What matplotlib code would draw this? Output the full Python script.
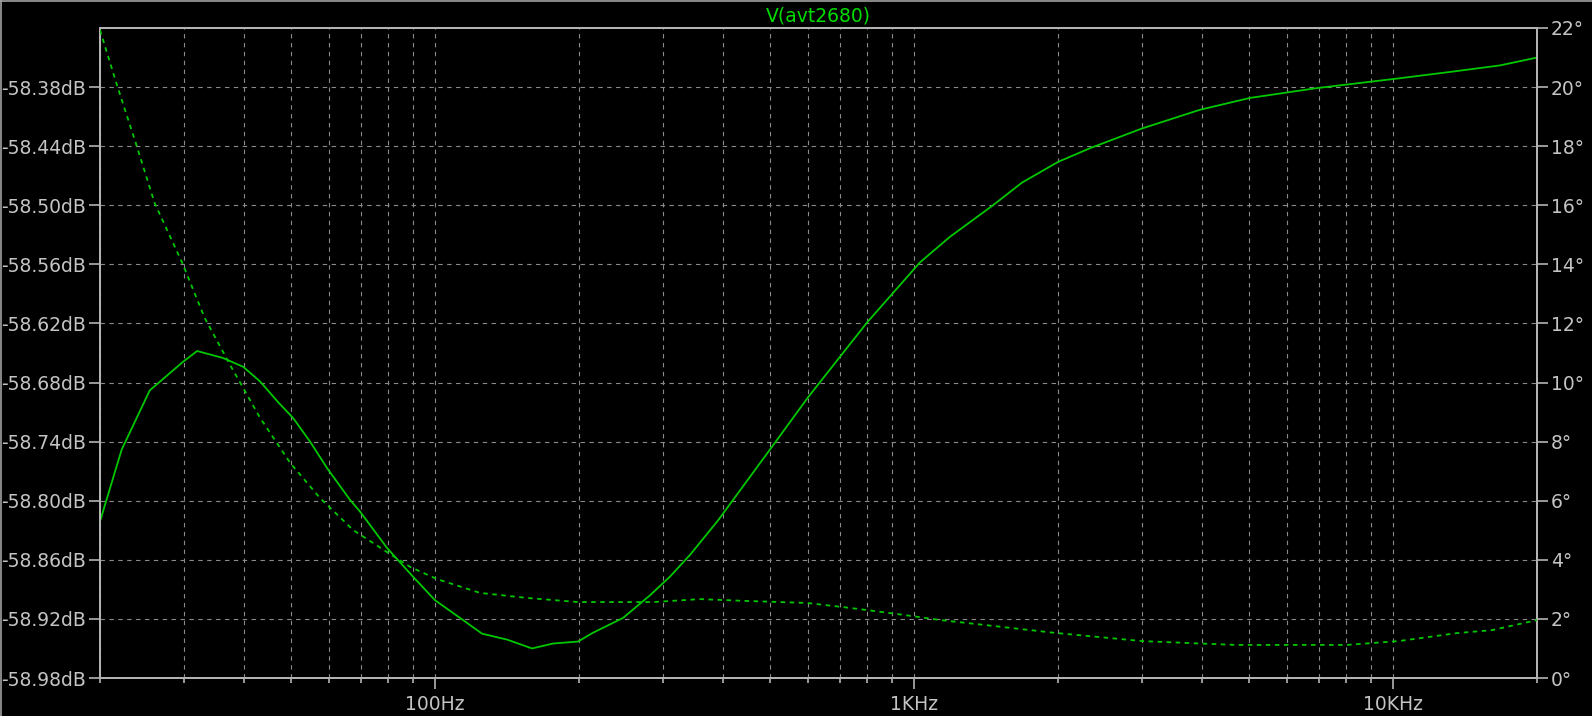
import numpy as np
import matplotlib
matplotlib.use("Agg")
import matplotlib.pyplot as plt
from matplotlib.ticker import FixedLocator, LogLocator, NullFormatter
from matplotlib.lines import Line2D

# ---- data ----
mag_freq = [20, 22.2, 25.4, 29.8, 31.9, 36.1, 39.8, 43.2, 47.1, 50.6, 54.9, 59.6,
            66.5, 69.8, 79.5, 90.0, 100.1, 112.9, 125.5, 141.5, 159.6, 176.5,
            199.0, 214.0, 247.2, 281.4, 309.8, 341.0, 390.2, 494.0, 601.4, 798.8,
            1030, 1190, 1463, 1682, 2000, 2334, 2996, 3960, 5034, 6946, 10350,
            12980, 16740, 20000]
mag_db = [-58.821, -58.748, -58.688, -58.659, -58.648, -58.655, -58.664, -58.679,
          -58.700, -58.716, -58.740, -58.767, -58.799, -58.811, -58.848, -58.877,
          -58.901, -58.919, -58.935, -58.941, -58.950, -58.945, -58.943, -58.934,
          -58.919, -58.896, -58.877, -58.855, -58.820, -58.752, -58.695, -58.619,
          -58.558, -58.532, -58.500, -58.477, -58.456, -58.442, -58.422, -58.403,
          -58.391, -58.381, -58.371, -58.365, -58.358, -58.350]

ph_freq = [20, 21.7, 23.9, 26.0, 29.7, 33.1, 37.4, 43.2, 49.9, 57.6, 67.5, 79.5,
           88.8, 101.0, 124.3, 155.8, 199.0, 285.4, 357.8, 444.4, 598.5, 711.6,
           798.8, 918.2, 1139, 1603, 1990, 2996, 3792, 4706, 8022, 10300, 13620,
           16110, 20000]
ph_deg = [21.93, 20.07, 17.97, 16.08, 14.05, 12.18, 10.59, 8.80, 7.28, 6.09,
          5.01, 4.26, 3.76, 3.35, 2.88, 2.71, 2.57, 2.57, 2.67, 2.61, 2.54, 2.40,
          2.30, 2.17, 1.96, 1.69, 1.52, 1.25, 1.18, 1.12, 1.12, 1.25, 1.52, 1.62,
          1.96]

db_ticks = [-58.98, -58.92, -58.86, -58.80, -58.74, -58.68, -58.62, -58.56,
            -58.50, -58.44, -58.38]
deg_ticks = [0, 2, 4, 6, 8, 10, 12, 14, 16, 18, 20, 22]
freq_ticks = [100, 1000, 10000]
freq_labels = ["100Hz", "1KHz", "10KHz"]

TRACE = "#00c800"
GRID = "#8a8a8a"
AXC = "#b4b4b4"
TXT = "#c4c4c4"

fig = plt.figure(figsize=(15.92, 7.16), dpi=100, facecolor="black")
ax = fig.add_axes([100 / 1592, 38 / 716, 1437 / 1592, 650 / 716])
ax.set_facecolor("black")
ax.set_xscale("log")
ax.set_xlim(20, 20000)
ax.set_ylim(-58.98, -58.32)

ax.plot(mag_freq, mag_db, color=TRACE, lw=1.3, zorder=3)

ax.yaxis.set_major_locator(FixedLocator(db_ticks))
ax.set_yticklabels([f"{v:.2f}dB" for v in db_ticks])
ax.xaxis.set_major_locator(FixedLocator(freq_ticks))
ax.set_xticklabels(freq_labels)
ax.xaxis.set_minor_locator(LogLocator(base=10, subs=np.arange(2, 10), numticks=20))
ax.xaxis.set_minor_formatter(NullFormatter())

ax.grid(True, which="both", axis="x", color=GRID, lw=0.8, ls=(0, (4, 4)))
ax.grid(True, which="major", axis="y", color=GRID, lw=0.8, ls=(0, (4, 4)))
ax.set_axisbelow(True)

ax.tick_params(axis="y", which="major", length=8, width=1.2, color=AXC,
               labelcolor=TXT, labelsize=13.5, pad=2)
ax.tick_params(axis="x", which="major", length=8, width=1.2, color=AXC,
               labelcolor=TXT, labelsize=13.5, pad=4)
ax.tick_params(axis="x", which="minor", length=3.5, width=1.2, color=AXC)

ax2 = ax.twinx()
ax2.set_ylim(0, 22)
ax2.plot(ph_freq, ph_deg, color=TRACE, lw=1.3, ls=(0, (2.5, 2.5)), zorder=3)
ax2.yaxis.set_major_locator(FixedLocator(deg_ticks))
ax2.set_yticklabels([f"{v}°" for v in deg_ticks])
ax2.tick_params(axis="y", length=8, width=1.2, color=AXC,
                labelcolor=TXT, labelsize=13.5, pad=2)

for a in (ax, ax2):
    for s in a.spines.values():
        s.set_color(AXC)
        s.set_linewidth(1.3)

ax.set_title("V(avt2680)", color="#00dc00", fontsize=13.5, pad=5)

# window edge lines (top and left)
fig.add_artist(Line2D([0, 1], [0.999, 0.999], color="#a0a0a0", lw=1.2,
                      transform=fig.transFigure))
fig.add_artist(Line2D([0.0006, 0.0006], [0, 1], color="#a0a0a0", lw=1.2,
                      transform=fig.transFigure))

fig.savefig("out.png", dpi=100, facecolor="black")
